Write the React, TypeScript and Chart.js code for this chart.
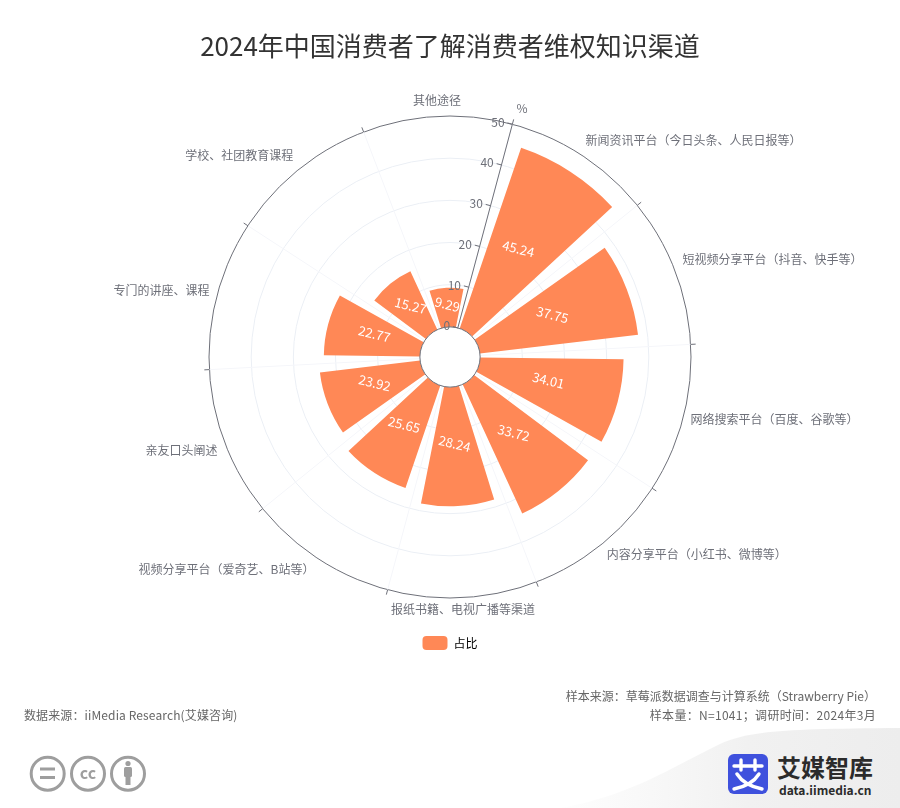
import { useEffect, useRef } from 'react';
import { Chart, registerables } from 'chart.js';

Chart.register(...registerables);

const FONT = '"Noto Sans CJK SC", "Noto Sans", sans-serif';
const ORANGE = '#FF8856';
const AXIS = '#6E7079';

const TITLE = '2024年中国消费者了解消费者维权知识渠道';
const CATEGORIES = [
  '新闻资讯平台（今日头条、人民日报等）',
  '短视频分享平台（抖音、快手等）',
  '网络搜索平台（百度、谷歌等）',
  '内容分享平台（小红书、微博等）',
  '报纸书籍、电视广播等渠道',
  '视频分享平台（爱奇艺、B站等）',
  '亲友口头阐述',
  '专门的讲座、课程',
  '学校、社团教育课程',
  '其他途径',
];
const VALUES = [45.24, 37.75, 34.01, 33.72, 28.24, 25.65, 23.92, 22.77, 15.27, 9.29];
const TICKS = [0, 10, 20, 30, 40, 50];
const SERIES_NAME = '占比';
const UNIT = '%';

const START_ANGLE = 15;
const BAR_RATIO = 0.79;

// draws what the radial scale can't: the sector trimming, the tilted axis and the outside labels
const polarDecor = {
  id: 'polarDecor',
  afterDatasetsUpdate(chart: any) {
    const scale = chart.scales.r;
    const inner = scale.getDistanceFromCenterForValue(0);
    chart.getDatasetMeta(0).data.forEach((arc: any) => {
      const mid = (arc.startAngle + arc.endAngle) / 2;
      const half = ((arc.endAngle - arc.startAngle) * BAR_RATIO) / 2;
      arc.startAngle = mid - half;
      arc.endAngle = mid + half;
      arc.innerRadius = inner;
    });
  },
  afterDatasetsDraw(chart: any) {
    const { ctx } = chart;
    const scale = chart.scales.r;
    const cx = scale.xCenter;
    const cy = scale.yCenter;
    const outer = scale.getDistanceFromCenterForValue(50);
    const inner = scale.getDistanceFromCenterForValue(0);
    const rad = (START_ANGLE * Math.PI) / 180;
    const perpX = -Math.cos(rad);
    const perpY = -Math.sin(rad);

    ctx.save();
    ctx.strokeStyle = AXIS;
    ctx.lineWidth = 1;

    // white hub hides the angle lines that run to the centre
    ctx.fillStyle = '#ffffff';
    ctx.beginPath();
    ctx.arc(cx, cy, inner, 0, Math.PI * 2);
    ctx.fill();
    ctx.stroke();

    // radial axis
    const from = scale.getPointPosition(0, inner);
    const to = scale.getPointPosition(0, outer);
    ctx.beginPath();
    ctx.moveTo(from.x, from.y);
    ctx.lineTo(to.x, to.y);
    ctx.stroke();

    ctx.font = `12px ${FONT}`;
    ctx.fillStyle = AXIS;
    ctx.textAlign = 'right';
    ctx.textBaseline = 'middle';
    TICKS.forEach((t) => {
      const p = scale.getPointPosition(0, scale.getDistanceFromCenterForValue(t));
      ctx.beginPath();
      ctx.moveTo(p.x, p.y);
      ctx.lineTo(p.x + perpX * 5, p.y + perpY * 5);
      ctx.stroke();
      ctx.fillText(String(t), p.x + perpX * 8, p.y + perpY * 8);
    });

    const unit = scale.getPointPosition(0, outer + 16);
    ctx.textAlign = 'left';
    ctx.fillText(UNIT, unit.x, unit.y);

    // angle axis ticks and category labels
    CATEGORIES.forEach((name, i) => {
      const a = scale.getPointPosition(i, outer);
      const b = scale.getPointPosition(i, outer + 5);
      ctx.beginPath();
      ctx.moveTo(a.x, a.y);
      ctx.lineTo(b.x, b.y);
      ctx.stroke();

      const p = scale.getPointPosition(i + 0.5, outer + 8);
      const dx = (p.x - cx) / outer;
      const dy = (p.y - cy) / outer;
      ctx.textAlign = Math.abs(dx) < 0.3 ? 'center' : dx > 0 ? 'left' : 'right';
      ctx.textBaseline = Math.abs(dy) < 0.3 ? 'middle' : dy > 0 ? 'top' : 'bottom';
      ctx.fillText(name, p.x, p.y - 2);
    });

    // values on the bars
    ctx.fillStyle = '#ffffff';
    ctx.font = `13px ${FONT}`;
    ctx.textAlign = 'center';
    ctx.textBaseline = 'middle';
    chart.getDatasetMeta(0).data.forEach((arc: any, i: number) => {
      const c = arc.getCenterPoint();
      ctx.save();
      ctx.translate(c.x, c.y - 3);
      ctx.rotate((14 * Math.PI) / 180);
      ctx.fillText(VALUES[i].toFixed(2), 0, 0);
      ctx.restore();
    });
    ctx.restore();
  },
};

function CcBadges() {
  return (
    <svg width="130" height="44" style={{ position: 'absolute', left: 24, top: 752 }}>
      <g fill="none" stroke="#9e9e9e" strokeWidth="3">
        <circle cx="23.7" cy="21.7" r="16.5" />
        <circle cx="64" cy="21.7" r="16.5" />
        <circle cx="104" cy="21.7" r="16.5" />
      </g>
      <rect x="16" y="15.5" width="15" height="3" fill="#9e9e9e" />
      <rect x="16" y="24" width="15" height="3" fill="#9e9e9e" />
      <text x="64" y="27" textAnchor="middle" fontSize="16" fontWeight="700" fill="#9e9e9e" fontFamily={FONT}>
        cc
      </text>
      <circle cx="104" cy="11.5" r="2.6" fill="#9e9e9e" />
      <rect x="100" y="15" width="8" height="10" rx="1.5" fill="#9e9e9e" />
      <rect x="101.5" y="24" width="5" height="9" fill="#9e9e9e" />
    </svg>
  );
}

function Brand() {
  return (
    <>
      <svg width="360" height="90" style={{ position: 'absolute', left: 540, top: 718 }}>
        <defs>
          <linearGradient id="sweep" x1="0" y1="0" x2="1" y2="0">
            <stop offset="0" stopColor="#f3f3f3" stopOpacity="0.1" />
            <stop offset="0.55" stopColor="#f1f1f1" />
            <stop offset="1" stopColor="#ededed" />
          </linearGradient>
        </defs>
        <path d="M20 90 C 90 78, 130 50, 180 26 C 210 12, 250 11, 360 10 L360 90 Z" fill="url(#sweep)" />
      </svg>
      <svg width="40" height="40" style={{ position: 'absolute', left: 728, top: 754 }}>
        <rect width="40" height="40" rx="6" fill="#3F51DD" />
        <g stroke="#fff" strokeWidth="3.4" fill="none" strokeLinecap="round">
          <path d="M6 12 H34" />
          <path d="M13 6 V16" />
          <path d="M27 6 V16" />
          <path d="M9 20 C 14 28, 24 33, 34 35" />
          <path d="M31 20 C 26 28, 16 33, 6 35" />
        </g>
      </svg>
      <div
        style={{
          position: 'absolute',
          left: 777,
          top: 751,
          fontFamily: FONT,
          fontSize: 24,
          fontWeight: 700,
          lineHeight: '32px',
          color: '#2b2b2b',
          whiteSpace: 'nowrap',
        }}
      >
        艾媒智库
      </div>
      <div
        style={{
          position: 'absolute',
          left: 779,
          top: 782,
          fontFamily: FONT,
          fontSize: 12,
          fontWeight: 700,
          lineHeight: '16px',
          color: '#2b2b2b',
          whiteSpace: 'nowrap',
        }}
      >
        data.iimedia.cn
      </div>
    </>
  );
}

export default function App() {
  const canvasRef = useRef<HTMLCanvasElement>(null);

  useEffect(() => {
    if (!canvasRef.current) return;
    const chart = new Chart(canvasRef.current, {
      type: 'polarArea',
      data: {
        labels: CATEGORIES,
        datasets: [{ label: SERIES_NAME, data: VALUES, backgroundColor: ORANGE, borderWidth: 0 }],
      },
      options: {
        responsive: false,
        animation: false,
        layout: { padding: { bottom: 148 } },
        plugins: {
          tooltip: { enabled: false },
          title: {
            display: true,
            text: TITLE,
            color: '#333333',
            font: { family: FONT, size: 26, weight: 'normal' },
            padding: { top: 31, bottom: 54 },
          },
          legend: {
            position: 'bottom',
            labels: {
              boxWidth: 25,
              boxHeight: 14,
              padding: 37,
              useBorderRadius: true,
              borderRadius: 4,
              color: '#444444',
              font: { family: FONT, size: 12 },
              generateLabels: () => [
                {
                  text: SERIES_NAME,
                  fillStyle: ORANGE,
                  strokeStyle: ORANGE,
                  lineWidth: 0,
                  hidden: false,
                  datasetIndex: 0,
                  borderRadius: 4,
                },
              ],
            },
          },
        },
        scales: {
          r: {
            startAngle: START_ANGLE,
            min: -50 / 7,
            max: 50,
            afterBuildTicks: (axis: any) => {
              axis.ticks = TICKS.map((value) => ({ value }));
            },
            ticks: { display: false },
            pointLabels: { display: false },
            angleLines: { display: true, color: '#f5f6fa' },
            grid: {
              circular: true,
              color: (ctx: any) => (ctx.tick && ctx.tick.value === 50 ? AXIS : '#ebeff5'),
            },
          },
        },
      },
      plugins: [polarDecor],
    });
    return () => chart.destroy();
  }, []);

  const note = {
    position: 'absolute',
    fontFamily: FONT,
    fontSize: 12,
    lineHeight: '16px',
    color: '#666666',
    whiteSpace: 'nowrap',
  } as const;

  return (
    <div style={{ position: 'relative', width: 900, height: 808, overflow: 'hidden', background: '#fff' }}>
      <style>{'body { margin: 0; }'}</style>
      <Brand />
      <canvas ref={canvasRef} width={900} height={808} style={{ position: 'absolute', left: 0, top: 0 }} />
      <div style={{ ...note, left: 24, top: 707, letterSpacing: 0.12 }}>数据来源：iiMedia Research(艾媒咨询)</div>
      <div style={{ ...note, right: 24, top: 688 }}>样本来源：草莓派数据调查与计算系统（Strawberry Pie）</div>
      <div style={{ ...note, right: 24, top: 707, letterSpacing: 0.3 }}>样本量：N=1041；调研时间：2024年3月</div>
      <CcBadges />
    </div>
  );
}
